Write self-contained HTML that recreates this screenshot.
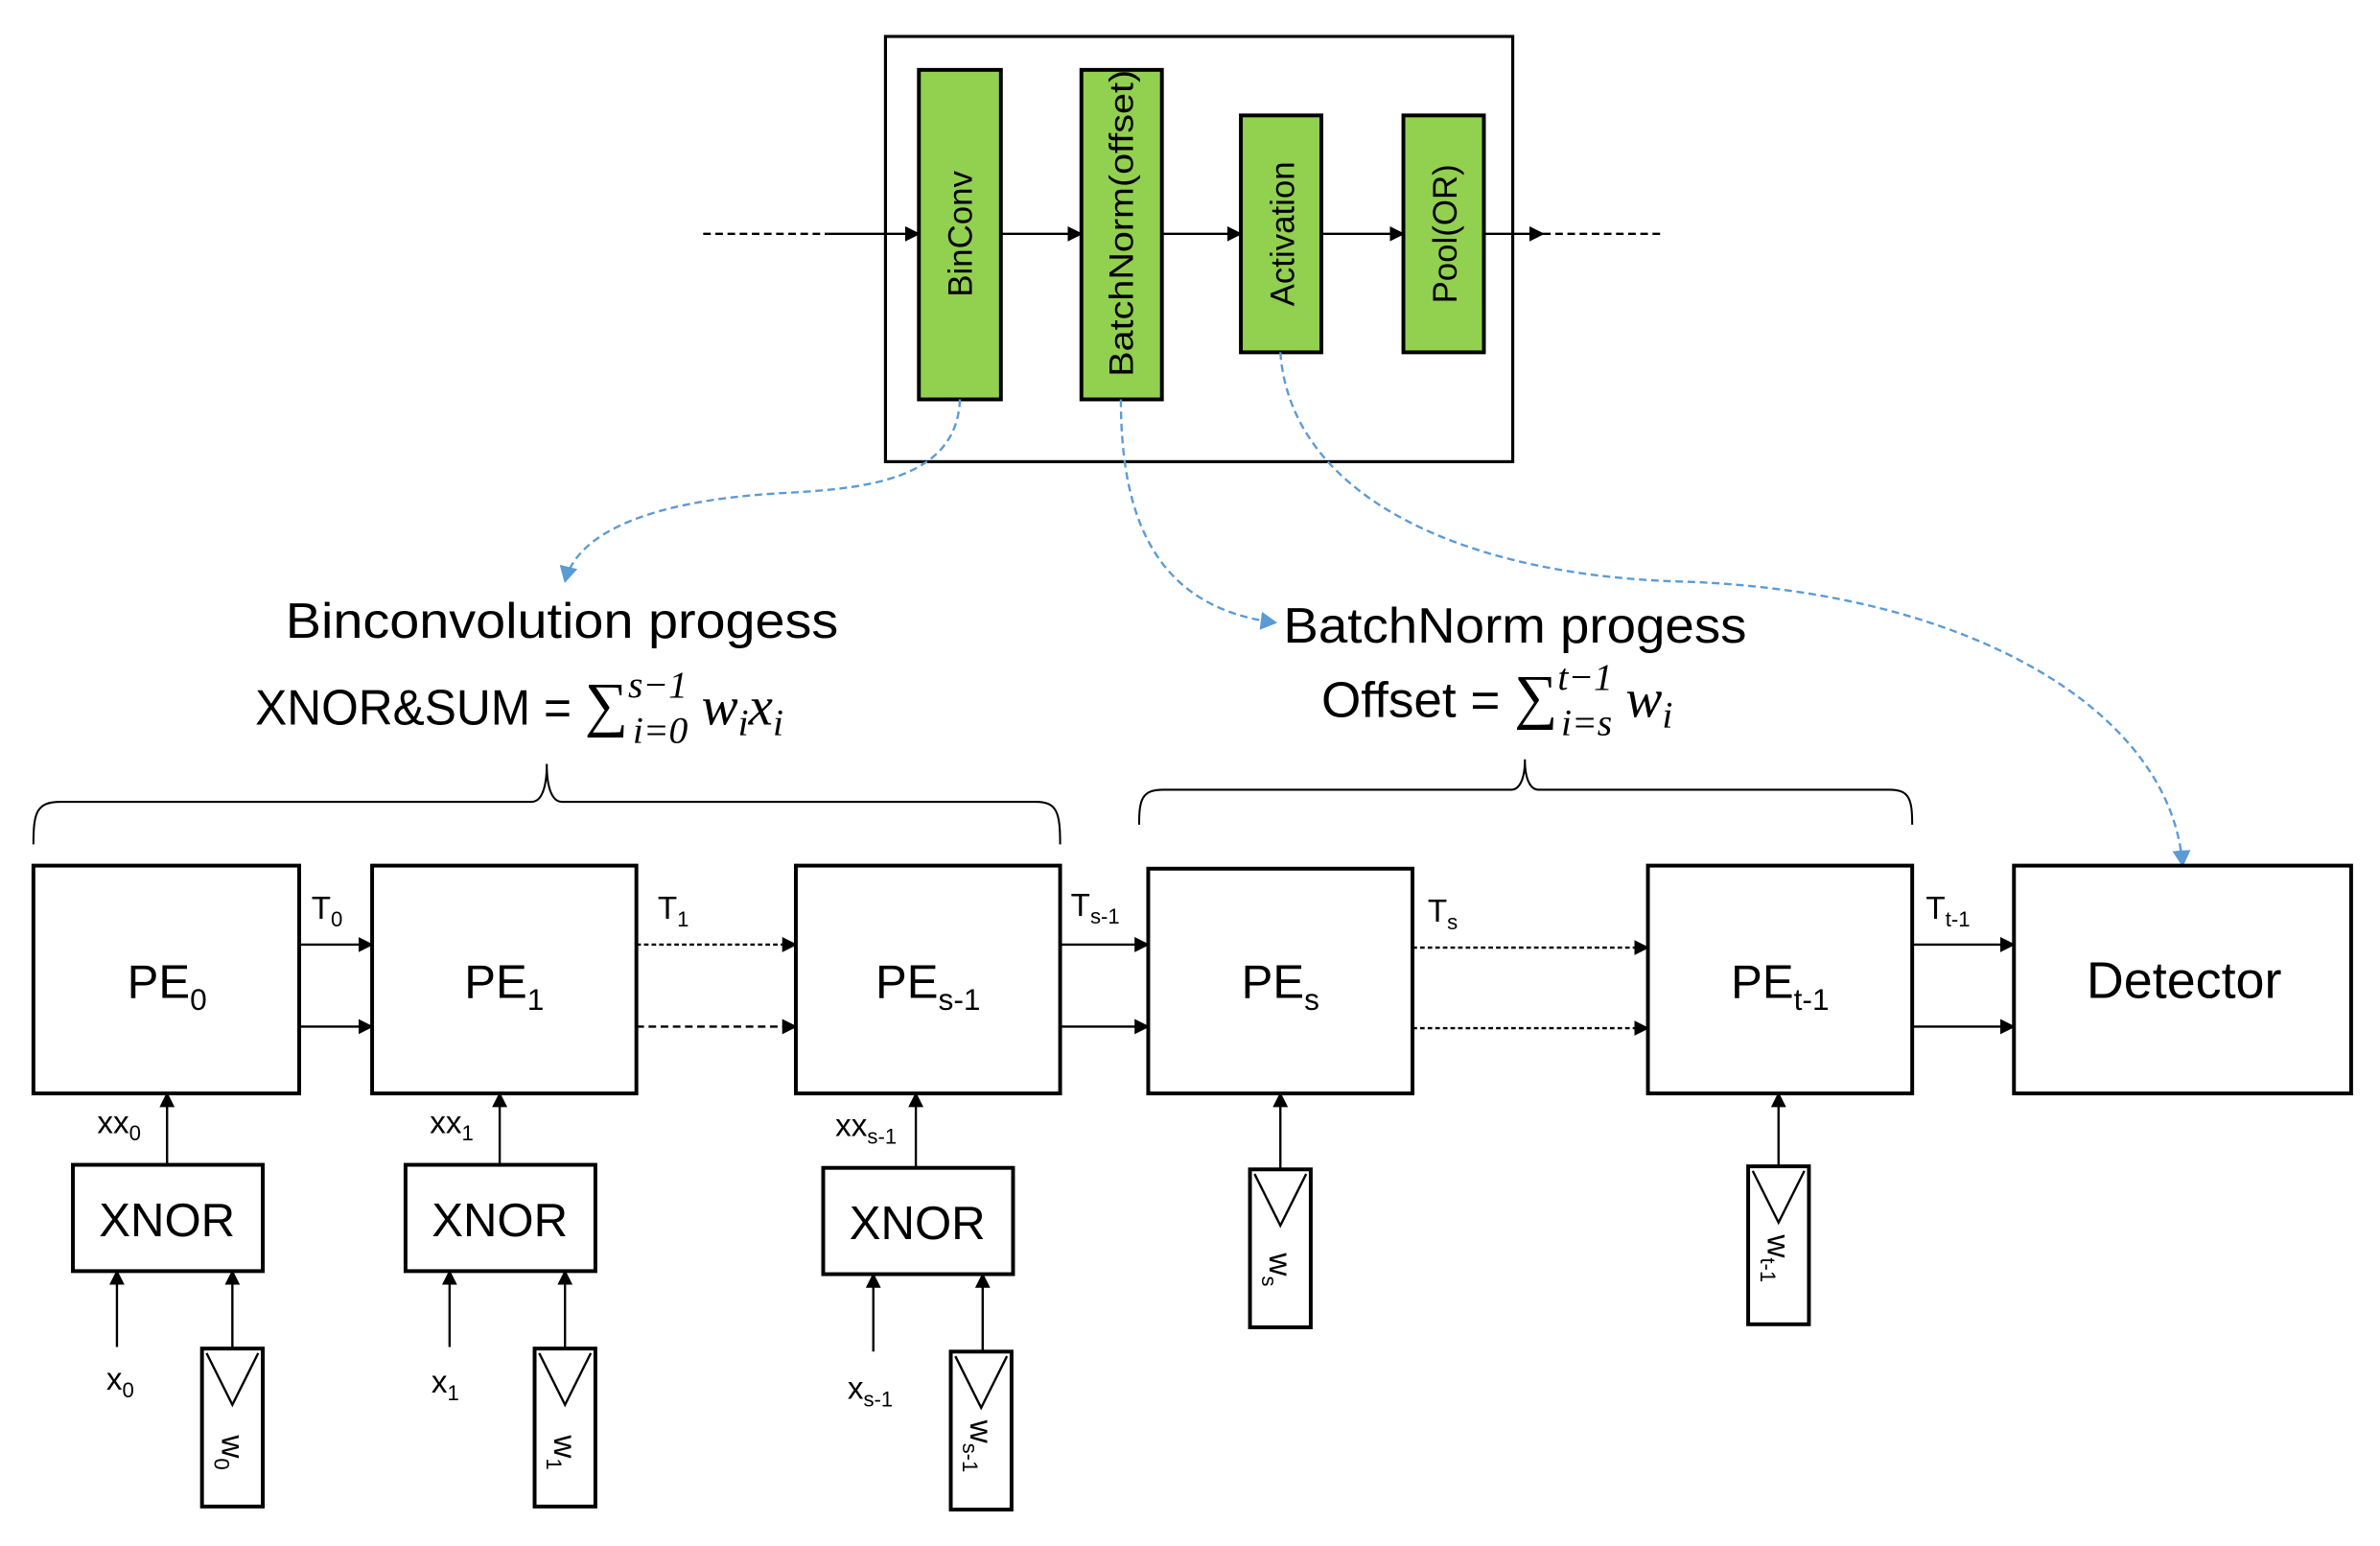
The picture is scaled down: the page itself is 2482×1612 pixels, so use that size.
<!DOCTYPE html>
<html><head><meta charset="utf-8"><style>
html,body{margin:0;padding:0;background:#fff}
svg{display:block}
text{font-family:"Liberation Sans",sans-serif;fill:#000}
</style></head><body>
<svg width="2482" height="1612" viewBox="0 0 1567 1018" preserveAspectRatio="none" xmlns="http://www.w3.org/2000/svg">
<defs>
<marker id="a" markerWidth="10" markerHeight="10" refX="9" refY="5" orient="auto" markerUnits="userSpaceOnUse"><path d="M0,0 L10,5 L0,10 z" fill="#000"/></marker>
<marker id="b" markerWidth="12" markerHeight="12" refX="10" refY="6" orient="auto" markerUnits="userSpaceOnUse"><path d="M0,0 L11,6 L0,12 z" fill="#5b9bd5"/></marker>
</defs>
<g fill="none" stroke="#000" stroke-width="2">
<rect x="583" y="24" width="413" height="280"/>
</g>
<g fill="#92d050" stroke="#000" stroke-width="2.5">
<rect x="605" y="46" width="54" height="217"/>
<rect x="712" y="46" width="53" height="217"/>
<rect x="817" y="76" width="53" height="156"/>
<rect x="924" y="76" width="53" height="156"/>
</g>
<g font-size="22">
<text transform="translate(640,154) rotate(-90)" text-anchor="middle">BinConv</text>
<text transform="translate(746,147) rotate(-90)" text-anchor="middle" textLength="202" lengthAdjust="spacingAndGlyphs">BatchNorm(offset)</text>
<text transform="translate(852,154) rotate(-90)" text-anchor="middle">Activation</text>
<text transform="translate(959,154) rotate(-90)" text-anchor="middle">Pool(OR)</text>
</g>
<g stroke="#000" stroke-width="1.5" fill="none">
<line x1="463" y1="154" x2="545" y2="154" stroke-dasharray="5,3"/>
<line x1="545" y1="154" x2="605" y2="154" marker-end="url(#a)"/>
<line x1="659" y1="154" x2="712" y2="154" marker-end="url(#a)"/>
<line x1="765" y1="154" x2="817" y2="154" marker-end="url(#a)"/>
<line x1="870" y1="154" x2="924" y2="154" marker-end="url(#a)"/>
<line x1="977" y1="154" x2="1016" y2="154" marker-end="url(#a)"/>
<line x1="1016" y1="154" x2="1095" y2="154" stroke-dasharray="5,3"/>
</g>
<g stroke="#5b9bd5" stroke-width="1.5" fill="none" stroke-dasharray="5,3">
<path d="M632,263 C630,320 560,322 510,325 C430,330 380,350 372,383" marker-end="url(#b)"/>
<path d="M738,263 C738,340 760,400 840,410" marker-end="url(#b)"/>
<path d="M843,232 C850,330 970,380 1110,383 C1300,390 1430,470 1437,570" marker-end="url(#b)"/>
</g>
<g font-size="33">
<text x="188" y="420" textLength="364" lengthAdjust="spacingAndGlyphs">Binconvolution progess</text>
<text x="168" y="477"><tspan textLength="217" lengthAdjust="spacingAndGlyphs">XNOR&amp;SUM = </tspan><tspan font-family="Liberation Serif" font-size="40">∑</tspan><tspan font-family="Liberation Serif" font-style="italic" font-size="25" dy="-18">s−1</tspan><tspan font-family="Liberation Serif" font-style="italic" font-size="25" dx="-36" dy="30">i=0</tspan><tspan font-family="Liberation Serif" font-style="italic" font-size="36" dy="-12"> w</tspan><tspan font-family="Liberation Serif" font-style="italic" font-size="25" dy="7">i</tspan><tspan font-family="Liberation Serif" font-style="italic" font-size="36" dy="-7">x</tspan><tspan font-family="Liberation Serif" font-style="italic" font-size="25" dy="7">i</tspan></text>
<text x="845" y="423" textLength="305" lengthAdjust="spacingAndGlyphs">BatchNorm progess</text>
<text x="870" y="472"><tspan textLength="127" lengthAdjust="spacingAndGlyphs">Offset = </tspan><tspan font-family="Liberation Serif" font-size="40">∑</tspan><tspan font-family="Liberation Serif" font-style="italic" font-size="25" dy="-18">t−1</tspan><tspan font-family="Liberation Serif" font-style="italic" font-size="25" dx="-34" dy="30">i=s</tspan><tspan font-family="Liberation Serif" font-style="italic" font-size="36" dy="-12"> w</tspan><tspan font-family="Liberation Serif" font-style="italic" font-size="25" dy="7">i</tspan></text>
</g>
<g fill="none" stroke="#000" stroke-width="1.3">
<path d="M22,556 C22,535 24,528 40,528 L350,528 C356,528 360,520 360,503 C360,520 364,528 370,528 L682,528 C696,528 698,535 698,556"/>
<path d="M750,543 C750,526 752,520 766,520 L995,520 C1000,520 1004,514 1004,500 C1004,514 1008,520 1013,520 L1244,520 C1257,520 1259,526 1259,543"/>
</g>
<g fill="none" stroke="#000" stroke-width="2.5">
<rect x="22" y="570" width="175" height="150"/>
<rect x="245" y="570" width="174" height="150"/>
<rect x="524" y="570" width="174" height="150"/>
<rect x="756" y="572" width="174" height="148"/>
<rect x="1085" y="570" width="174" height="150"/>
<rect x="1326" y="570" width="222" height="150"/>
<rect x="48" y="767" width="125" height="70"/>
<rect x="267" y="767" width="125" height="70"/>
<rect x="542" y="769" width="125" height="70"/>
<rect x="133" y="888" width="40" height="104"/>
<rect x="352" y="888" width="40" height="104"/>
<rect x="626" y="890" width="40" height="104"/>
<rect x="823" y="770" width="40" height="104"/>
<rect x="1151" y="768" width="40" height="104"/>
</g>
<g fill="none" stroke="#000" stroke-width="1.5">
<path d="M136,891 L153,925 L170,891"/>
<path d="M355,891 L372,925 L389,891"/>
<path d="M629,893 L646,927 L663,893"/>
<path d="M826,773 L843,807 L860,773"/>
<path d="M1154,771 L1171,805 L1188,771"/>
</g>
<g stroke="#000" stroke-width="1.5" fill="none">
<line x1="197" y1="622" x2="245" y2="622" marker-end="url(#a)"/>
<line x1="197" y1="676" x2="245" y2="676" marker-end="url(#a)"/>
<line x1="419" y1="622" x2="524" y2="622" marker-end="url(#a)" stroke-dasharray="3,2"/>
<line x1="419" y1="676" x2="524" y2="676" marker-end="url(#a)" stroke-dasharray="5,3"/>
<line x1="698" y1="622" x2="756" y2="622" marker-end="url(#a)"/>
<line x1="698" y1="676" x2="756" y2="676" marker-end="url(#a)"/>
<line x1="930" y1="624" x2="1085" y2="624" marker-end="url(#a)" stroke-dasharray="3,2"/>
<line x1="930" y1="677" x2="1085" y2="677" marker-end="url(#a)" stroke-dasharray="3,2"/>
<line x1="1259" y1="622" x2="1326" y2="622" marker-end="url(#a)"/>
<line x1="1259" y1="676" x2="1326" y2="676" marker-end="url(#a)"/>
<line x1="110" y1="767" x2="110" y2="720" marker-end="url(#a)"/>
<line x1="329" y1="767" x2="329" y2="720" marker-end="url(#a)"/>
<line x1="603" y1="769" x2="603" y2="720" marker-end="url(#a)"/>
<line x1="843" y1="770" x2="843" y2="720" marker-end="url(#a)"/>
<line x1="1171" y1="768" x2="1171" y2="720" marker-end="url(#a)"/>
<line x1="77" y1="887" x2="77" y2="837" marker-end="url(#a)"/>
<line x1="153" y1="888" x2="153" y2="837" marker-end="url(#a)"/>
<line x1="296" y1="887" x2="296" y2="837" marker-end="url(#a)"/>
<line x1="372" y1="888" x2="372" y2="837" marker-end="url(#a)"/>
<line x1="575" y1="890" x2="575" y2="839" marker-end="url(#a)"/>
<line x1="647" y1="890" x2="647" y2="839" marker-end="url(#a)"/>
</g>
<g font-size="31" text-anchor="middle">
<text x="110" y="657">PE<tspan font-size="20" dy="8">0</tspan></text>
<text x="332" y="657">PE<tspan font-size="20" dy="8">1</tspan></text>
<text x="611" y="657">PE<tspan font-size="20" dy="8">s-1</tspan></text>
<text x="843" y="657">PE<tspan font-size="20" dy="8">s</tspan></text>
<text x="1172" y="657">PE<tspan font-size="20" dy="8">t-1</tspan></text>
<text x="1438" y="657" font-size="34">Detector</text>
<text x="110" y="814">XNOR</text>
<text x="329" y="814">XNOR</text>
<text x="604" y="816">XNOR</text>
</g>
<g font-size="21">
<text x="205" y="605">T<tspan font-size="14" dy="5">0</tspan></text>
<text x="433" y="605">T<tspan font-size="14" dy="5">1</tspan></text>
<text x="705" y="603">T<tspan font-size="14" dy="5">s-1</tspan></text>
<text x="940" y="607">T<tspan font-size="14" dy="5">s</tspan></text>
<text x="1268" y="605">T<tspan font-size="14" dy="5">t-1</tspan></text>
<text x="64" y="746">xx<tspan font-size="14" dy="5">0</tspan></text>
<text x="283" y="746">xx<tspan font-size="14" dy="5">1</tspan></text>
<text x="550" y="748">xx<tspan font-size="14" dy="5">s-1</tspan></text>
<text x="70" y="915">x<tspan font-size="14" dy="5">0</tspan></text>
<text x="284" y="917">x<tspan font-size="14" dy="5">1</tspan></text>
<text x="558" y="921">x<tspan font-size="14" dy="5">s-1</tspan></text>
</g>
<g font-size="21">
<text transform="translate(146,945) rotate(90)">w<tspan font-size="14" dy="5">0</tspan></text>
<text transform="translate(365,945) rotate(90)">w<tspan font-size="14" dy="5">1</tspan></text>
<text transform="translate(639,935) rotate(90)">w<tspan font-size="14" dy="5">s-1</tspan></text>
<text transform="translate(836,825) rotate(90)">w<tspan font-size="14" dy="5">s</tspan></text>
<text transform="translate(1164,813) rotate(90)">w<tspan font-size="14" dy="5">t-1</tspan></text>
</g>
</svg>
</body></html>
